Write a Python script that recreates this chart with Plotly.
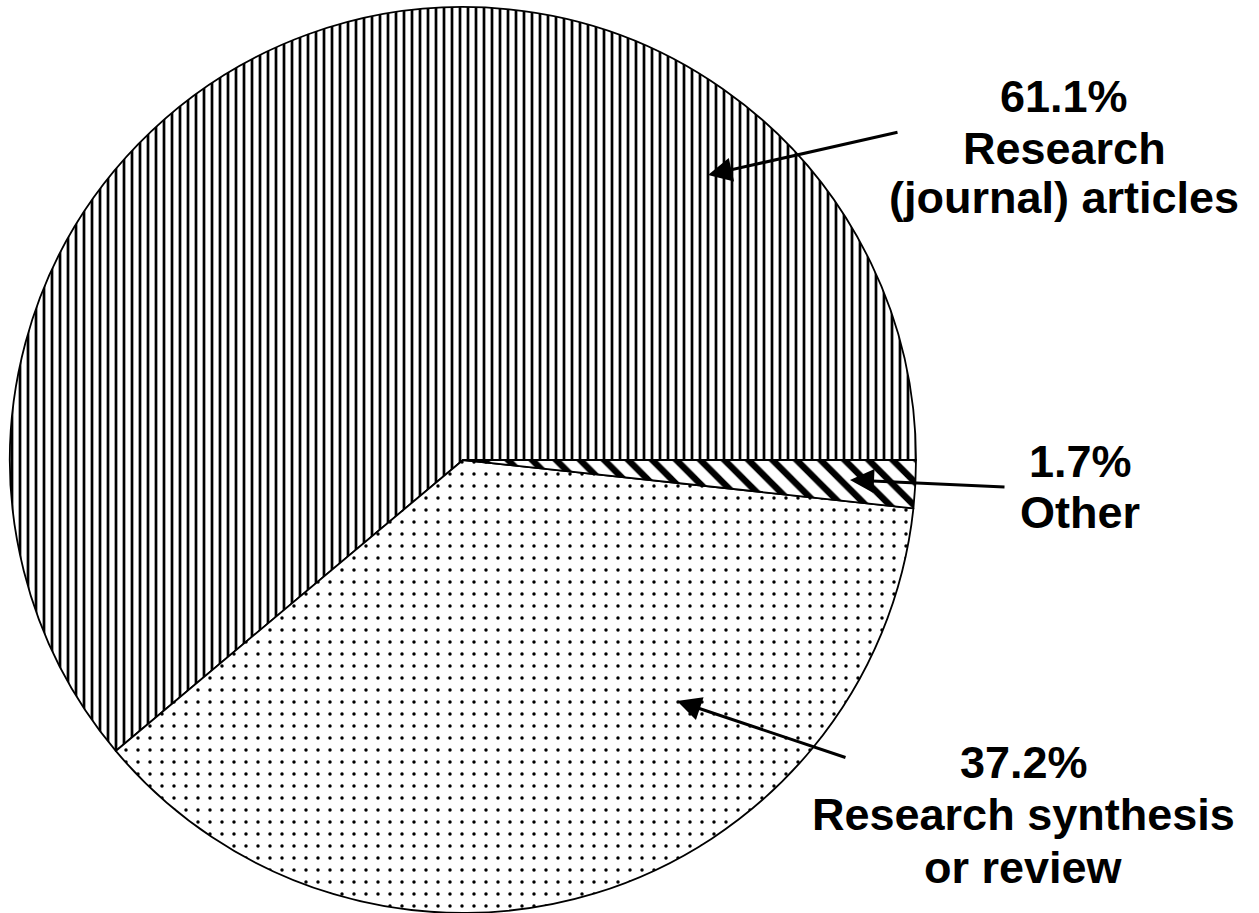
import plotly.graph_objects as go

# Publication types and their shares (%)
categories = ["Research (journal) articles", "Research synthesis or review", "Other"]
shares = [61.1, 37.2, 1.7]
label_lines = [
    ["61.1%", "Research", "(journal) articles"],
    ["37.2%", "Research synthesis", "or review"],
    ["1.7%", "Other"],
]

W, H = 1259, 913
FONT = "Liberation Sans, Arial, sans-serif"


def px(x):
    return x / W


def py(y):
    return 1 - y / H


# Counterclockwise pies in plotly place the first slice so that it ends at
# `rotation`; shift it so that the first slice starts at 3 o'clock instead.
first_span = 360 * shares[0] / sum(shares)
rotation = 90 - first_span

fig = go.Figure(
    go.Pie(
        labels=categories,
        values=shares,
        sort=False,
        direction="counterclockwise",
        rotation=rotation,
        textinfo="none",
        hoverinfo="label+percent",
        showlegend=False,
        marker=dict(
            colors=["white", "white", "white"],
            line=dict(color="black", width=1.8),
            pattern=dict(
                shape=["|", ".", "\\"],
                size=[8, 12, 17],
                solidity=[0.34, 0.065, 0.38],
                fgcolor="black",
                bgcolor="white",
                fillmode="replace",
            ),
        ),
        domain=dict(x=[px(10), px(916)], y=[py(913), py(7)]),
    )
)

# Label text: one annotation per line, positioned at the cap-height centre
label_pos = [
    (1064, [97, 148, 197]),
    (1024, [762, 814, 867]),
    (1080, [461, 512]),
]
annotations = []
for lines, (cx, ys) in zip(label_lines, label_pos):
    for txt, yy in zip(lines, ys):
        annotations.append(
            dict(
                text=f"<b>{txt}</b>",
                x=px(cx), y=py(yy), xref="paper", yref="paper",
                xanchor="center", yanchor="middle",
                showarrow=False,
                font=dict(family=FONT, size=45, color="black"),
            )
        )

# Pointer arrows: (head x, head y, tail x, tail y) in pixels
arrows = [
    (708, 175, 899, 132),
    (677, 701, 847, 758),
    (850, 480, 1006, 487),
]
for hx, hy, tx, ty in arrows:
    annotations.append(
        dict(
            text="", x=px(hx), y=py(hy), xref="paper", yref="paper",
            ax=tx - hx, ay=ty - hy, axref="pixel", ayref="pixel",
            showarrow=True, arrowhead=2, arrowsize=1.6, arrowwidth=3,
            arrowcolor="black", standoff=0, startstandoff=0,
        )
    )

fig.update_layout(
    width=W, height=H,
    margin=dict(l=0, r=0, t=0, b=0),
    paper_bgcolor="white", plot_bgcolor="white",
    annotations=annotations,
)

fig.write_html("out.html")
